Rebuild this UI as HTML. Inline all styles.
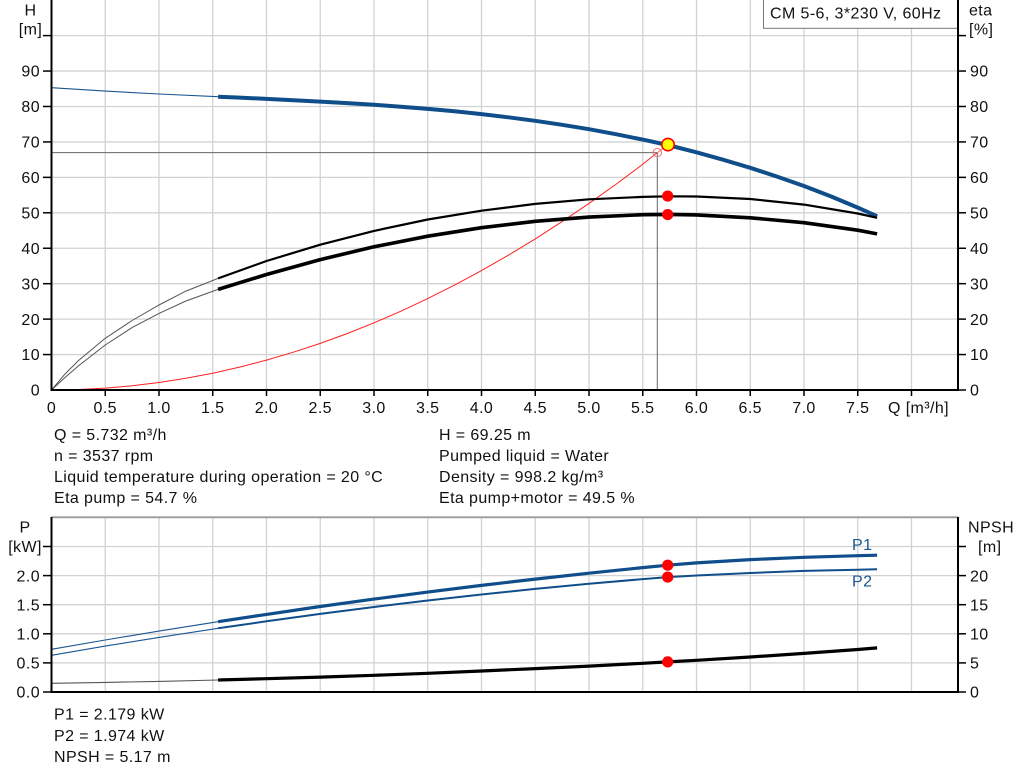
<!DOCTYPE html>
<html><head><meta charset="utf-8"><style>
html,body{margin:0;padding:0;background:#fff;}
svg{display:block;}
text{font-family:"Liberation Sans",Arial,sans-serif;font-size:16px;letter-spacing:0.4px;fill:#111;}
</style></head><body>
<svg width="1024" height="781" viewBox="0 0 1024 781" xmlns="http://www.w3.org/2000/svg">
<rect width="1024" height="781" fill="#fff"/>
<!-- TOP CHART GRID -->
<g stroke="#d2d2d2" stroke-width="1.3">
<line x1="105.25" y1="0" x2="105.25" y2="390"/><line x1="159" y1="0" x2="159" y2="390"/>
<line x1="212.75" y1="0" x2="212.75" y2="390"/><line x1="266.5" y1="0" x2="266.5" y2="390"/>
<line x1="320.25" y1="0" x2="320.25" y2="390"/><line x1="374" y1="0" x2="374" y2="390"/>
<line x1="427.75" y1="0" x2="427.75" y2="390"/><line x1="481.5" y1="0" x2="481.5" y2="390"/>
<line x1="535.25" y1="0" x2="535.25" y2="390"/><line x1="589" y1="0" x2="589" y2="390"/>
<line x1="642.75" y1="0" x2="642.75" y2="390"/><line x1="696.5" y1="0" x2="696.5" y2="390"/>
<line x1="750.25" y1="0" x2="750.25" y2="390"/><line x1="804" y1="0" x2="804" y2="390"/>
<line x1="857.75" y1="0" x2="857.75" y2="390"/><line x1="911.5" y1="0" x2="911.5" y2="390"/>
<line x1="51.5" y1="354.56" x2="958" y2="354.56"/><line x1="51.5" y1="319.12" x2="958" y2="319.12"/>
<line x1="51.5" y1="283.68" x2="958" y2="283.68"/><line x1="51.5" y1="248.24" x2="958" y2="248.24"/>
<line x1="51.5" y1="212.8" x2="958" y2="212.8"/><line x1="51.5" y1="177.36" x2="958" y2="177.36"/>
<line x1="51.5" y1="141.92" x2="958" y2="141.92"/><line x1="51.5" y1="106.48" x2="958" y2="106.48"/>
<line x1="51.5" y1="71.04" x2="958" y2="71.04"/><line x1="51.5" y1="35.6" x2="958" y2="35.6"/>
</g>
<!-- legend box -->
<rect x="763.5" y="-1" width="194.5" height="29.3" fill="#fff" stroke="#777" stroke-width="1"/>
<text x="770" y="18.3">CM 5-6, 3*230 V, 60Hz</text>

<!-- reference lines -->
<line x1="51.5" y1="152.6" x2="657.3" y2="152.6" stroke="#666" stroke-width="1"/>
<line x1="657.3" y1="152.6" x2="657.3" y2="390" stroke="#666" stroke-width="1"/>

<!-- system curve (red) -->
<polyline fill="none" stroke="#ff2020" stroke-width="1" points="51.5,390 78.4,389.5 105.25,388.1 132.1,385.8 159,382.5 185.9,378.3 212.75,373.2 239.6,367.1 266.5,360.1 293.4,352.2 320.25,343.4 347.1,333.6 374,322.8 400.9,311.2 427.75,298.6 454.6,285.1 481.5,270.6 508.4,255.2 535.25,238.9 562.1,221.6 589,203.4 615,185 640.6,165.9 657.3,152.6"/>
<line x1="657.3" y1="152.6" x2="667.7" y2="144.8" stroke="#f07070" stroke-width="1"/>
<circle cx="657.3" cy="152.6" r="4.2" fill="none" stroke="#f07070" stroke-width="1"/>

<!-- H curve -->
<polyline fill="none" stroke="#1a5590" stroke-width="1.1" points="51.5,87.7 105.25,91.1 159,94.0 218.1,96.7"/>
<polyline fill="none" stroke="#0f4e8a" stroke-width="4" stroke-linejoin="round" points="218.1,96.7 239.6,97.6 266.5,98.9 293.4,100.2 320.25,101.6 347.1,103.1 374,104.8 400.9,106.7 427.75,108.9 454.6,111.3 481.5,114.1 508.4,117.3 535.25,120.8 562.1,124.8 589,129.2 615.9,134.2 642.75,139.6 667.7,145.0 696.5,152.3 723.4,159.8 750.25,167.8 777.1,176.6 804,186.0 830.9,196.4 857.75,207.6 877.1,216.3"/>

<!-- eta curves -->
<polyline fill="none" stroke="#555" stroke-width="1" points="51.5,390 64.9,374.1 78.4,360.6 105.25,338.3 132.1,320.5 159,305 185.9,291.1 218.1,278.4"/>
<polyline fill="none" stroke="#000" stroke-width="2.2" stroke-linejoin="round" points="218.1,278.4 266.5,261.0 320.25,244.7 374,230.9 427.75,219.5 481.5,210.7 535.25,203.9 589,199.3 642.75,196.9 669.6,196.3 696.5,196.5 750.25,199.0 804,204.6 857.75,213.5 877.1,217.8"/>
<polyline fill="none" stroke="#555" stroke-width="1" points="51.5,390 64.9,377.6 78.4,365.9 105.25,345 132.1,327.6 159,313.4 185.9,301 218.1,289.4"/>
<polyline fill="none" stroke="#000" stroke-width="3.6" stroke-linejoin="round" points="218.1,289.4 266.5,274.5 320.25,259.6 374,246.8 427.75,236.2 481.5,227.7 535.25,221.3 589,217.1 642.75,214.7 669.6,214.4 696.5,214.9 750.25,217.8 804,222.7 857.75,230.2 877.1,233.9"/>

<circle cx="667.7" cy="196.1" r="5.6" fill="#ff0000"/>
<circle cx="667.7" cy="214.6" r="5.6" fill="#ff0000"/>
<circle cx="668" cy="144.6" r="6.2" fill="#ffff00" stroke="#ff0000" stroke-width="1.6"/>

<!-- top axes -->
<g stroke="#000" stroke-width="2">
<line x1="51.5" y1="0" x2="51.5" y2="391"/>
<line x1="958" y1="0" x2="958" y2="391"/>
<line x1="50.5" y1="390" x2="959" y2="390"/>
</g>
<g stroke="#000" stroke-width="1.5">
<line x1="43" y1="354.56" x2="51" y2="354.56"/><line x1="43" y1="319.12" x2="51" y2="319.12"/>
<line x1="43" y1="283.68" x2="51" y2="283.68"/><line x1="43" y1="248.24" x2="51" y2="248.24"/>
<line x1="43" y1="212.8" x2="51" y2="212.8"/><line x1="43" y1="177.36" x2="51" y2="177.36"/>
<line x1="43" y1="141.92" x2="51" y2="141.92"/><line x1="43" y1="106.48" x2="51" y2="106.48"/>
<line x1="43" y1="71.04" x2="51" y2="71.04"/><line x1="43" y1="35.6" x2="51" y2="35.6"/>
<line x1="958" y1="354.56" x2="966" y2="354.56"/><line x1="958" y1="319.12" x2="966" y2="319.12"/>
<line x1="958" y1="283.68" x2="966" y2="283.68"/><line x1="958" y1="248.24" x2="966" y2="248.24"/>
<line x1="958" y1="212.8" x2="966" y2="212.8"/><line x1="958" y1="177.36" x2="966" y2="177.36"/>
<line x1="958" y1="141.92" x2="966" y2="141.92"/><line x1="958" y1="106.48" x2="966" y2="106.48"/>
<line x1="958" y1="71.04" x2="966" y2="71.04"/><line x1="958" y1="35.6" x2="966" y2="35.6"/>
<line x1="958" y1="390" x2="966" y2="390"/>
<line x1="105.25" y1="390" x2="105.25" y2="396"/><line x1="159" y1="390" x2="159" y2="396"/>
<line x1="212.75" y1="390" x2="212.75" y2="396"/><line x1="266.5" y1="390" x2="266.5" y2="396"/>
<line x1="320.25" y1="390" x2="320.25" y2="396"/><line x1="374" y1="390" x2="374" y2="396"/>
<line x1="427.75" y1="390" x2="427.75" y2="396"/><line x1="481.5" y1="390" x2="481.5" y2="396"/>
<line x1="535.25" y1="390" x2="535.25" y2="396"/><line x1="589" y1="390" x2="589" y2="396"/>
<line x1="642.75" y1="390" x2="642.75" y2="396"/><line x1="696.5" y1="390" x2="696.5" y2="396"/>
<line x1="750.25" y1="390" x2="750.25" y2="396"/><line x1="804" y1="390" x2="804" y2="396"/>
<line x1="857.75" y1="390" x2="857.75" y2="396"/><line x1="911.5" y1="390" x2="911.5" y2="396"/>
</g>

<!-- top labels -->
<text x="30.5" y="15.5" text-anchor="middle">H</text>
<text x="30.5" y="34.5" text-anchor="middle">[m]</text>
<text x="969" y="15.5">eta</text>
<text x="969" y="34.5">[%]</text>
<g text-anchor="end">
<text x="40" y="76.7">90</text><text x="40" y="112.1">80</text><text x="40" y="147.6">70</text>
<text x="40" y="183">60</text><text x="40" y="218.5">50</text><text x="40" y="253.9">40</text>
<text x="40" y="289.3">30</text><text x="40" y="324.8">20</text><text x="40" y="360.2">10</text>
<text x="40" y="395.6">0</text>
</g>
<g>
<text x="970" y="76.7">90</text><text x="970" y="112.1">80</text><text x="970" y="147.6">70</text>
<text x="970" y="183">60</text><text x="970" y="218.5">50</text><text x="970" y="253.9">40</text>
<text x="970" y="289.3">30</text><text x="970" y="324.8">20</text><text x="970" y="360.2">10</text>
<text x="970" y="395.6">0</text>
</g>
<g text-anchor="middle">
<text x="51.5" y="413">0</text><text x="105.25" y="413">0.5</text><text x="159" y="413">1.0</text>
<text x="212.75" y="413">1.5</text><text x="266.5" y="413">2.0</text><text x="320.25" y="413">2.5</text>
<text x="374" y="413">3.0</text><text x="427.75" y="413">3.5</text><text x="481.5" y="413">4.0</text>
<text x="535.25" y="413">4.5</text><text x="589" y="413">5.0</text><text x="642.75" y="413">5.5</text>
<text x="696.5" y="413">6.0</text><text x="750.25" y="413">6.5</text><text x="804" y="413">7.0</text>
<text x="857.75" y="413">7.5</text>
</g>
<text x="888" y="413">Q [m³/h]</text>

<!-- info text -->
<text x="54" y="440">Q = 5.732 m³/h</text>
<text x="54" y="461">n = 3537 rpm</text>
<text x="54" y="482">Liquid temperature during operation = 20 °C</text>
<text x="54" y="503">Eta pump = 54.7 %</text>
<text x="439" y="440">H = 69.25 m</text>
<text x="439" y="461">Pumped liquid = Water</text>
<text x="439" y="482">Density = 998.2 kg/m³</text>
<text x="439" y="503">Eta pump+motor = 49.5 %</text>

<!-- BOTTOM CHART GRID -->
<g stroke="#d2d2d2" stroke-width="1.3">
<line x1="105.25" y1="517" x2="105.25" y2="692"/><line x1="159" y1="517" x2="159" y2="692"/>
<line x1="212.75" y1="517" x2="212.75" y2="692"/><line x1="266.5" y1="517" x2="266.5" y2="692"/>
<line x1="320.25" y1="517" x2="320.25" y2="692"/><line x1="374" y1="517" x2="374" y2="692"/>
<line x1="427.75" y1="517" x2="427.75" y2="692"/><line x1="481.5" y1="517" x2="481.5" y2="692"/>
<line x1="535.25" y1="517" x2="535.25" y2="692"/><line x1="589" y1="517" x2="589" y2="692"/>
<line x1="642.75" y1="517" x2="642.75" y2="692"/><line x1="696.5" y1="517" x2="696.5" y2="692"/>
<line x1="750.25" y1="517" x2="750.25" y2="692"/><line x1="804" y1="517" x2="804" y2="692"/>
<line x1="857.75" y1="517" x2="857.75" y2="692"/><line x1="911.5" y1="517" x2="911.5" y2="692"/>
<line x1="51.5" y1="662.9" x2="958" y2="662.9"/><line x1="51.5" y1="633.8" x2="958" y2="633.8"/>
<line x1="51.5" y1="604.7" x2="958" y2="604.7"/><line x1="51.5" y1="575.6" x2="958" y2="575.6"/>
<line x1="51.5" y1="546.5" x2="958" y2="546.5"/>
</g>
<line x1="51.5" y1="517.3" x2="958" y2="517.3" stroke="#a0a0a0" stroke-width="2"/>

<!-- P1 -->
<polyline fill="none" stroke="#1a5590" stroke-width="1.1" points="51.5,649.3 105.25,640 159,631.1 218.1,621.7"/>
<polyline fill="none" stroke="#0f4e8a" stroke-width="3.2" stroke-linejoin="round" points="218.1,621.7 266.5,614.4 320.25,606.5 374,599.1 427.75,592.1 481.5,585.4 535.25,579.1 589,573.2 642.75,567.6 667.7,565.2 696.5,562.9 750.25,559.6 804,557.3 857.75,555.7 877.1,555.2"/>
<!-- P2 -->
<polyline fill="none" stroke="#1a5590" stroke-width="1.1" points="51.5,655.3 105.25,646.1 159,637.4 218.1,628.3"/>
<polyline fill="none" stroke="#0f4e8a" stroke-width="2" stroke-linejoin="round" points="218.1,628.3 266.5,621.3 320.25,613.9 374,607 427.75,600.5 481.5,594.5 535.25,588.9 589,583.8 642.75,579.1 667.7,577.1 696.5,575.5 750.25,573 804,570.9 857.75,569.7 877.1,569.2"/>
<!-- NPSH -->
<polyline fill="none" stroke="#555" stroke-width="1.1" points="51.5,683.3 105.25,682.4 159,681.4 218.1,680"/>
<polyline fill="none" stroke="#000" stroke-width="3.2" stroke-linejoin="round" points="218.1,680 266.5,678.7 320.25,677.1 374,675.3 427.75,673.3 481.5,671 535.25,668.6 589,666.1 642.75,663.3 667.7,661.9 696.5,660.3 750.25,657.0 804,653.4 857.75,649.5 877.1,647.9"/>

<circle cx="667.7" cy="565.2" r="5.6" fill="#ff0000"/>
<circle cx="667.7" cy="577.1" r="5.6" fill="#ff0000"/>
<circle cx="667.7" cy="661.9" r="5.6" fill="#ff0000"/>

<text x="852" y="550" style="fill:#1a5590">P1</text>
<text x="852" y="586.7" style="fill:#1a5590">P2</text>

<!-- bottom axes -->
<g stroke="#000" stroke-width="2">
<line x1="51.5" y1="517" x2="51.5" y2="693"/>
<line x1="958" y1="517" x2="958" y2="693"/>
<line x1="50.5" y1="692" x2="959" y2="692"/>
</g>
<g stroke="#000" stroke-width="1.5">
<line x1="43" y1="662.9" x2="51" y2="662.9"/><line x1="43" y1="633.8" x2="51" y2="633.8"/>
<line x1="43" y1="604.7" x2="51" y2="604.7"/><line x1="43" y1="575.6" x2="51" y2="575.6"/>
<line x1="43" y1="546.5" x2="51" y2="546.5"/><line x1="43" y1="692" x2="51" y2="692"/>
<line x1="958" y1="662.9" x2="966" y2="662.9"/><line x1="958" y1="633.8" x2="966" y2="633.8"/>
<line x1="958" y1="604.7" x2="966" y2="604.7"/><line x1="958" y1="575.6" x2="966" y2="575.6"/>
<line x1="958" y1="546.5" x2="966" y2="546.5"/><line x1="958" y1="692" x2="966" y2="692"/>
</g>
<text x="25" y="532.7" text-anchor="middle">P</text>
<text x="25" y="552" text-anchor="middle">[kW]</text>
<text x="968" y="532.7">NPSH</text>
<text x="978" y="552">[m]</text>
<g text-anchor="end">
<text x="40" y="581.3">2.0</text><text x="40" y="610.4">1.5</text><text x="40" y="639.5">1.0</text>
<text x="40" y="668.6">0.5</text><text x="40" y="697.7">0.0</text>
</g>
<g>
<text x="970" y="581.3">20</text><text x="970" y="610.4">15</text><text x="970" y="639.5">10</text>
<text x="970" y="668.6">5</text><text x="970" y="697.7">0</text>
</g>

<text x="54" y="719.5">P1 = 2.179 kW</text>
<text x="54" y="741">P2 = 1.974 kW</text>
<text x="54" y="762">NPSH = 5.17 m</text>
</svg>
</body></html>
